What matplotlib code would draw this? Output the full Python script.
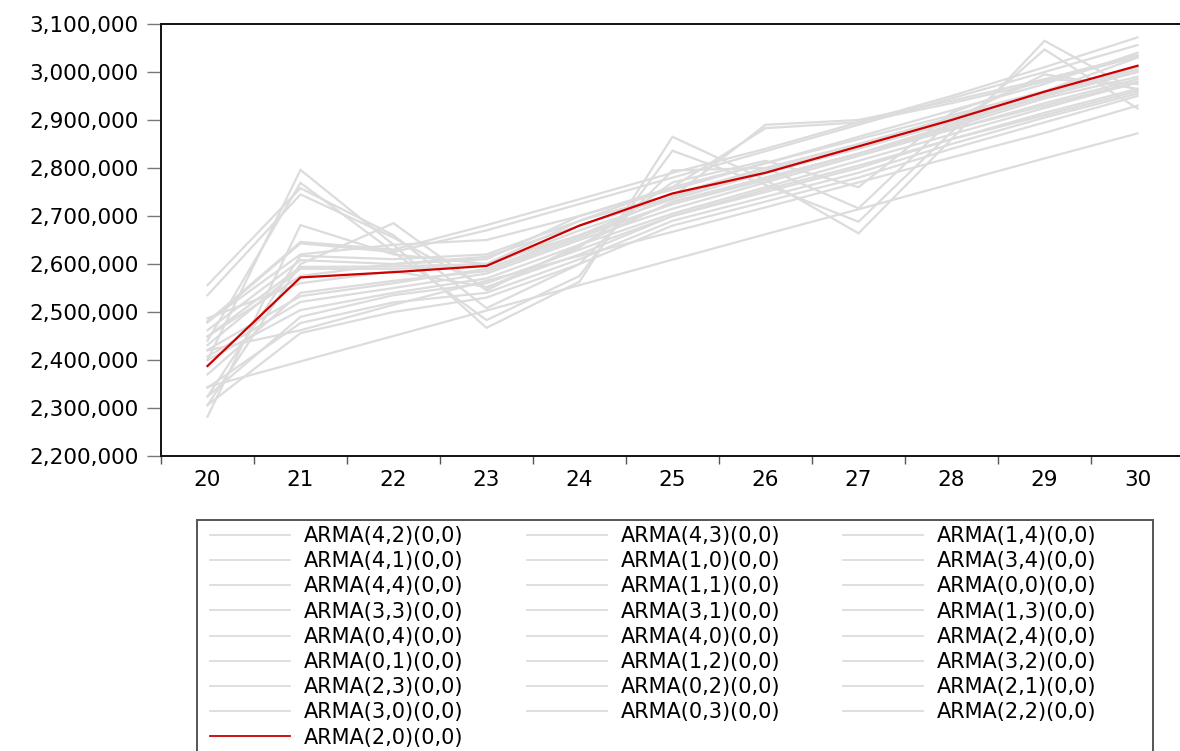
import matplotlib
matplotlib.use("Agg")
import matplotlib.pyplot as plt
from matplotlib.lines import Line2D
from matplotlib.patches import Rectangle
from matplotlib.ticker import FuncFormatter, MultipleLocator, FixedLocator

plt.rcParams['font.family'] = ['DejaVu Sans']

# Forecast horizon (observation index)
periods = [20, 21, 22, 23, 24, 25, 26, 27, 28, 29, 30]

# Forecasts of each candidate model
arma_42 = [2400000, 2796000, 2640000, 2467000, 2563000, 2865000, 2775000, 2664000, 2860000, 3065000, 2959000]
arma_43 = [2440000, 2769000, 2625000, 2483000, 2575000, 2836000, 2765000, 2688000, 2875000, 3047000, 2924000]
arma_14 = [2556000, 2758000, 2660000, 2508000, 2600000, 2795000, 2800000, 2716000, 2900000, 2995000, 2965000]
arma_41 = [2535000, 2745000, 2655000, 2550000, 2635000, 2770000, 2815000, 2760000, 2915000, 2985000, 2975000]
arma_10 = [2344000, 2397000, 2450000, 2503000, 2556000, 2609000, 2662000, 2714000, 2767000, 2820000, 2872000]
arma_34 = [2420000, 2462000, 2515000, 2565000, 2617000, 2667000, 2718000, 2770000, 2822000, 2873000, 2930000]
arma_44 = [2480000, 2646000, 2630000, 2681000, 2735000, 2790000, 2840000, 2895000, 2950000, 3010000, 3072000]
arma_11 = [2478000, 2643000, 2625000, 2670000, 2725000, 2780000, 2835000, 2890000, 2945000, 3000000, 3056000]
arma_00 = [2306000, 2600000, 2685000, 2545000, 2640000, 2730000, 2780000, 2830000, 2890000, 2950000, 3000000]
arma_33 = [2282000, 2681000, 2620000, 2600000, 2660000, 2740000, 2890000, 2900000, 2940000, 2985000, 3035000]
arma_31 = [2324000, 2617000, 2610000, 2620000, 2690000, 2760000, 2883000, 2895000, 2935000, 2980000, 3032000]
arma_13 = [2462000, 2608000, 2600000, 2610000, 2700000, 2755000, 2810000, 2860000, 2910000, 2960000, 3030000]
arma_04 = [2449000, 2594000, 2595000, 2600000, 2690000, 2745000, 2800000, 2850000, 2905000, 2955000, 3005000]
arma_40 = [2431000, 2590000, 2590000, 2596000, 2670000, 2735000, 2790000, 2840000, 2895000, 2950000, 3000000]
arma_24 = [2421000, 2533000, 2560000, 2590000, 2660000, 2725000, 2780000, 2830000, 2885000, 2945000, 2990000]
arma_01 = [2407000, 2521000, 2550000, 2580000, 2650000, 2715000, 2770000, 2825000, 2880000, 2935000, 2985000]
arma_12 = [2400000, 2504000, 2540000, 2570000, 2640000, 2705000, 2760000, 2815000, 2870000, 2925000, 2978000]
arma_32 = [2487000, 2560000, 2585000, 2552000, 2620000, 2700000, 2750000, 2800000, 2860000, 2910000, 2960000]
arma_23 = [2342000, 2477000, 2520000, 2540000, 2610000, 2690000, 2740000, 2790000, 2850000, 2905000, 2955000]
arma_02 = [2306000, 2456000, 2500000, 2530000, 2600000, 2680000, 2730000, 2780000, 2840000, 2895000, 2950000]
arma_21 = [2480000, 2620000, 2640000, 2650000, 2700000, 2760000, 2810000, 2865000, 2920000, 2975000, 3040000]
arma_30 = [2449000, 2575000, 2600000, 2615000, 2680000, 2740000, 2795000, 2845000, 2900000, 2955000, 3010000]
arma_03 = [2324000, 2490000, 2535000, 2560000, 2630000, 2700000, 2755000, 2805000, 2860000, 2915000, 2965000]
arma_22 = [2370000, 2540000, 2565000, 2585000, 2655000, 2725000, 2775000, 2830000, 2880000, 2930000, 2980000]
arma_20 = [2387500, 2572000, 2583000, 2596000, 2680000, 2747000, 2790000, 2845000, 2900000, 2959000, 3013000]

# Legend entries, read across rows
model_labels = [
    "ARMA(4,2)(0,0)", "ARMA(4,3)(0,0)", "ARMA(1,4)(0,0)",
    "ARMA(4,1)(0,0)", "ARMA(1,0)(0,0)", "ARMA(3,4)(0,0)",
    "ARMA(4,4)(0,0)", "ARMA(1,1)(0,0)", "ARMA(0,0)(0,0)",
    "ARMA(3,3)(0,0)", "ARMA(3,1)(0,0)", "ARMA(1,3)(0,0)",
    "ARMA(0,4)(0,0)", "ARMA(4,0)(0,0)", "ARMA(2,4)(0,0)",
    "ARMA(0,1)(0,0)", "ARMA(1,2)(0,0)", "ARMA(3,2)(0,0)",
    "ARMA(2,3)(0,0)", "ARMA(0,2)(0,0)", "ARMA(2,1)(0,0)",
    "ARMA(3,0)(0,0)", "ARMA(0,3)(0,0)", "ARMA(2,2)(0,0)",
    "ARMA(2,0)(0,0)",
]
model_series = [
    arma_42, arma_43, arma_14, arma_41, arma_10, arma_34,
    arma_44, arma_11, arma_00, arma_33, arma_31, arma_13,
    arma_04, arma_40, arma_24, arma_01, arma_12, arma_32,
    arma_23, arma_02, arma_21, arma_30, arma_03, arma_22,
    arma_20,
]
highlight_label = "ARMA(2,0)(0,0)"

y_ticks = [2200000, 2300000, 2400000, 2500000, 2600000, 2700000,
           2800000, 2900000, 3000000, 3100000]

GREY = "#dcdcdc"
RED = "#cc0000"
W, H = 1180, 751

fig = plt.figure(figsize=(W / 100, H / 100), dpi=100)
ax = fig.add_axes([161 / W, 295 / H, 1023 / W, 432 / H])

handles = {}
for label, vals in zip(model_labels, model_series):
    if label == highlight_label:
        continue
    ln, = ax.plot(periods, vals, color=GREY, lw=1.6, solid_joinstyle="miter")
    handles[label] = ln
hl, = ax.plot(periods, arma_20, color=RED, lw=1.6, zorder=5)
handles[highlight_label] = hl

ax.set_xlim(19.5, 30.5)
ax.set_ylim(y_ticks[0], y_ticks[-1])

ax.yaxis.set_major_locator(FixedLocator(y_ticks))
ax.yaxis.set_major_formatter(FuncFormatter(lambda v, p: f"{int(v):,}"))
ax.xaxis.set_major_locator(FixedLocator(periods))
ax.xaxis.set_minor_locator(MultipleLocator(1, offset=0.5))

ax.tick_params(axis="y", which="major", direction="out", length=10, width=1.0,
               color="#777777", pad=6, labelsize=15.5, labelcolor="black")
ax.tick_params(axis="x", which="major", length=0, pad=10, labelsize=15.5,
               labelcolor="black")
ax.tick_params(axis="x", which="minor", direction="out", length=6, width=1.0,
               color="#555555")

for side in ("left", "bottom", "top"):
    ax.spines[side].set_color("#111111")
    ax.spines[side].set_linewidth(1.4)
ax.spines["right"].set_visible(False)

# Legend: matplotlib fills columns first, so reorder the row-wise list
ncol = 3
n = len(model_labels)
col_order = [i for c in range(ncol) for i in range(c, n, ncol)]
leg_handles = [Line2D([], [], color=handles[model_labels[i]].get_color(), lw=1.3)
               for i in col_order]
leg_labels = [model_labels[i] for i in col_order]

fs = 15
fs_px = fs * 100 / 72
leg = fig.legend(leg_handles, leg_labels, ncol=ncol, loc="upper left",
                 bbox_to_anchor=(210 / W, 1 - 526 / H), borderaxespad=0,
                 borderpad=0, fontsize=fs, frameon=False,
                 handlelength=80 / fs_px, handletextpad=14 / fs_px,
                 labelspacing=0.25, columnspacing=63 / fs_px)

# Legend box, running past the bottom edge of the figure
fig.patches.append(Rectangle((197 / W, -0.05), 956 / W, (751 - 520) / H + 0.05,
                             transform=fig.transFigure, fill=False,
                             edgecolor="#555555", lw=1.4))

fig.savefig("out.png", dpi=100)
